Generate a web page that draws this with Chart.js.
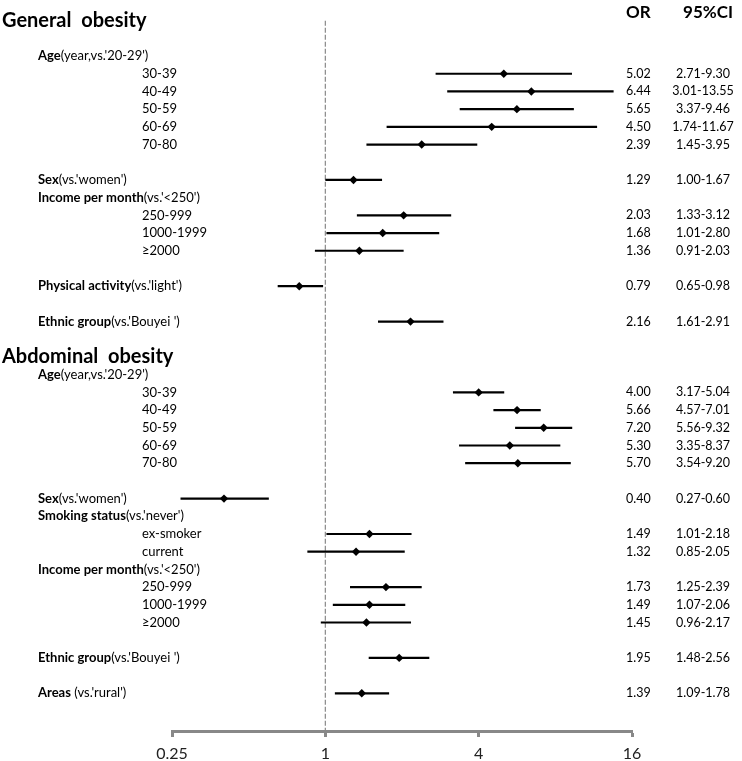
<!DOCTYPE html>
<html>
<head>
<meta charset="utf-8">
<script src="https://cdn.jsdelivr.net/npm/chart.js@4"></script>
<style>
  body { margin: 0; background: #fff; }
</style>
</head>
<body>
<canvas id="c" width="742" height="761"></canvas>
<script>
// rows top to bottom: '#' = group title, 'bold|normal' = factor heading, plain = level, '' = empty row
const rowLabels = [
  '#General  obesity', '', "Age|(year,vs.'20-29')",
  '30-39', '40-49', '50-59', '60-69', '70-80', '',
  "Sex|(vs.'women')", "Income per month|(vs.'<250')",
  '250-999', '1000-1999', '≥2000', '',
  "Physical activity|(vs.'light')", '',
  "Ethnic group|(vs.'Bouyei ')", '',
  '#Abdominal  obesity', "Age|(year,vs.'20-29')",
  '30-39', '40-49', '50-59', '60-69', '70-80', '',
  "Sex|(vs.'women')", "Smoking status|(vs.'never')",
  'ex-smoker', 'current', "Income per month|(vs.'<250')",
  '250-999', '1000-1999', '≥2000', '',
  "Ethnic group|(vs.'Bouyei ')", '',
  "Areas| (vs.'rural')"
]
const _ = null
const orValues = [
  _, _, _, 5.02, 6.44, 5.65, 4.50, 2.39, _, 1.29, _, 2.03, 1.68, 1.36, _, 0.79, _, 2.16, _,
  _, _, 4.00, 5.66, 7.20, 5.30, 5.70, _, 0.40, _, 1.49, 1.32, _, 1.73, 1.49, 1.45, _, 1.95, _, 1.39
]
const ciLow = [
  _, _, _, 2.71, 3.01, 3.37, 1.74, 1.45, _, 1.00, _, 1.33, 1.01, 0.91, _, 0.65, _, 1.61, _,
  _, _, 3.17, 4.57, 5.56, 3.35, 3.54, _, 0.27, _, 1.01, 0.85, _, 1.25, 1.07, 0.96, _, 1.48, _, 1.09
]
const ciHigh = [
  _, _, _, 9.30, 13.55, 9.46, 11.67, 3.95, _, 1.67, _, 3.12, 2.80, 2.03, _, 0.98, _, 2.91, _,
  _, _, 5.04, 7.01, 9.32, 8.37, 9.20, _, 0.60, _, 2.18, 2.05, _, 2.39, 2.06, 2.17, _, 2.56, _, 1.78
]
const xTicks = [0.25, 1, 4, 16]

const FONT = 'Lato'

const datasets = []
// points (drawn on top)
datasets.push({
  data: orValues.map((v, i) => v == null ? null : { x: v, y: i }).filter(p => p),
  pointStyle: 'rectRot',
  pointRadius: 4.2,
  backgroundColor: '#000',
  borderColor: '#000',
  borderWidth: 0,
  showLine: false,
  order: 0
})
// confidence intervals
orValues.forEach((v, i) => {
  if (v == null) return
  datasets.push({
    data: [{ x: ciLow[i], y: i }, { x: ciHigh[i], y: i }],
    showLine: true,
    borderColor: '#000',
    borderWidth: 2.2,
    pointRadius: 0,
    order: 1
  })
})
// reference line at OR = 1
datasets.push({
  data: [{ x: 1, y: 0 }, { x: 1, y: 41 }],
  showLine: true,
  borderColor: '#888',
  borderWidth: 1.2,
  borderDash: [5, 2],
  pointRadius: 0,
  order: 2
})

const rowText = {
  id: 'rowText',
  afterDraw(chart) {
    const ctx = chart.ctx
    const ys = chart.scales.y
    ctx.save()
    ctx.textBaseline = 'middle'
    ctx.fillStyle = '#000'
    rowLabels.forEach((lab, i) => {
      const py = ys.getPixelForValue(i)
      ctx.textAlign = 'left'
      if (lab[0] === '#') {
        ctx.font = 'bold 20px ' + FONT
        ctx.fillText(lab.slice(1), 2, py)
      } else if (lab.includes('|')) {
        const [b, n] = lab.split('|')
        ctx.font = 'bold 13px ' + FONT
        ctx.fillText(b, 38, py)
        const w = ctx.measureText(b).width
        ctx.font = '13px ' + FONT
        ctx.fillText(n, 38 + w, py)
      } else if (lab) {
        ctx.font = '13px ' + FONT
        ctx.fillText(lab, 142, py)
      }
      if (orValues[i] != null) {
        ctx.font = '12.5px ' + FONT
        ctx.fillText(orValues[i].toFixed(2), 626, py)
        ctx.textAlign = 'center'
        ctx.fillText(ciLow[i].toFixed(2) + '-' + ciHigh[i].toFixed(2), 703, py)
      }
    })
    ctx.font = 'bold 17px ' + FONT
    ctx.textAlign = 'left'
    ctx.fillText('OR', 626, 13)
    ctx.textAlign = 'center'
    ctx.fillText('95%CI', 708, 13)
    ctx.restore()
  }
}

new Chart(document.getElementById('c'), {
  type: 'scatter',
  data: { datasets },
  plugins: [rowText],
  options: {
    responsive: false,
    animation: false,
    events: [],
    layout: { padding: { left: 172, right: 110, top: 0, bottom: 0 } },
    plugins: { legend: { display: false }, tooltip: { enabled: false } },
    scales: {
      x: {
        type: 'logarithmic',
        min: 0.25,
        max: 16,
        afterBuildTicks: s => { s.ticks = xTicks.map(v => ({ value: v })) },
        afterFit: s => { s.height = 30 },
        ticks: {
          autoSkip: false,
          maxRotation: 0,
          padding: 7,
          color: '#222',
          font: { family: FONT, size: 16 },
          callback: v => String(v)
        },
        grid: {
          drawOnChartArea: false,
          drawTicks: true,
          tickLength: 6,
          tickWidth: 3,
          tickColor: '#888'
        },
        border: { display: true, color: '#888', width: 3 }
      },
      y: {
        type: 'linear',
        display: false,
        reverse: true,
        min: -0.93,
        max: 40.13
      }
    }
  }
})
</script>
</body>
</html>
